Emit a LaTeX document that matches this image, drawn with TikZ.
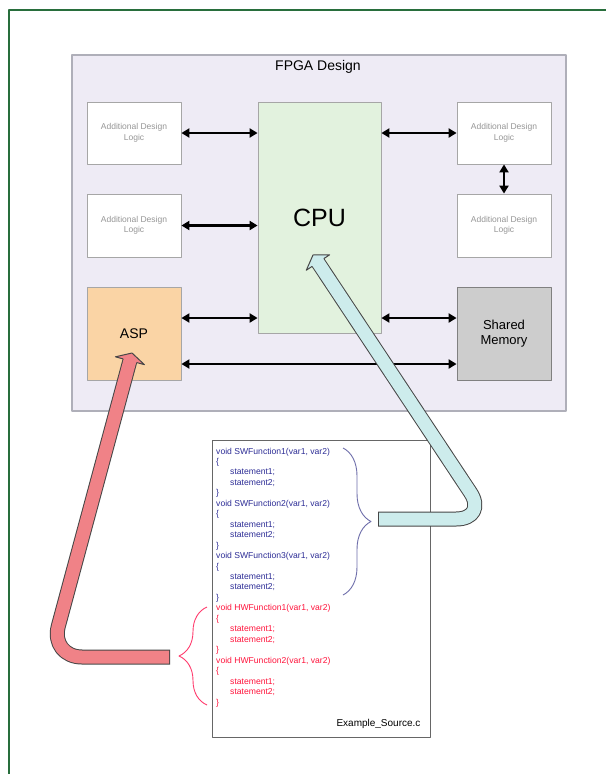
\documentclass[tikz,border=0pt]{standalone}
\usepackage{fontspec}
\setmainfont{Liberation Sans}
\usetikzlibrary{arrows.meta,calc,decorations.pathreplacing}
\definecolor{frameGreen}{RGB}{40,110,60}
\definecolor{fpgaFill}{RGB}{238,235,245}
\definecolor{fpgaLine}{RGB}{175,175,185}
\definecolor{cpuFill}{RGB}{226,242,222}
\definecolor{aspFill}{RGB}{250,212,165}
\definecolor{memFill}{RGB}{205,205,205}
\definecolor{swBlue}{RGB}{45,45,150}
\definecolor{hwRed}{RGB}{255,20,60}
\definecolor{swBrace}{RGB}{110,110,170}
\definecolor{hwBrace}{RGB}{255,60,110}
\definecolor{cyanBand}{RGB}{205,236,236}
\definecolor{pinkBand}{RGB}{240,130,135}
\definecolor{bandLine}{RGB}{70,70,70}
\definecolor{logicText}{RGB}{150,150,150}
\begin{document}
\begin{tikzpicture}[x=1pt,y=-1pt,line join=round,
  block/.style={draw=gray!70,line width=0.8pt,inner sep=0pt,align=center},
  logic/.style={block,fill=white,minimum width=94pt,minimum height=62pt,text=logicText,font=\fontsize{8.5}{10.5}\selectfont},
  biarrow/.style={line width=2.6pt,{Triangle[length=8pt,width=9pt]}-{Triangle[length=8pt,width=9pt]}},
  codeline/.style={anchor=base west,inner sep=0pt,font=\fontsize{8.6}{10}\selectfont},
  curly/.style={line width=0.9pt,decorate,decoration={brace,amplitude=28pt}},
  bandout/.style={line width=15pt,draw=bandLine,rounded corners=32pt},
  bandin/.style={line width=13pt,rounded corners=32pt},
  ]
\useasboundingbox (0,0) rectangle (606,774);
\fill[white] (0,0) rectangle (606,774);
\draw[frameGreen,line width=1.5pt] (9,774) -- (9,10) -- (606,10);

% FPGA design
\node[draw=fpgaLine,fill=fpgaFill,line width=1.2pt,minimum width=494pt,minimum height=356pt] (fpga) at (319,233) {};
\node[font=\fontsize{14}{16}\selectfont] (fpgaTitle) at (318,67) {FPGA Design};

\node[logic] (logicA) at (134,133) {Additional Design\\Logic};
\node[logic,minimum height=63pt] (logicB) at (134,225.5) {Additional Design\\Logic};
\node[block,fill=aspFill,minimum width=94pt,minimum height=93pt,font=\fontsize{14}{16}\selectfont] (asp) at (134,333.5) {ASP};
\node[block,fill=cpuFill,minimum width=123pt,minimum height=231pt,font=\fontsize{25}{28}\selectfont] (cpu) at (319.5,217.5) {CPU};
\node[logic] (logicC) at (504,133) {Additional Design\\Logic};
\node[logic,minimum height=63pt] (logicD) at (504,225.5) {Additional Design\\Logic};
\node[block,draw=gray,fill=memFill,minimum width=94pt,minimum height=93pt,font=\fontsize{13}{15.5}\selectfont] (mem) at (504,333.5) {Shared\\Memory};

\draw[biarrow] (logicA.east) -- (logicA.east -| cpu.west);
\draw[biarrow] (logicB.east) -- (logicB.east -| cpu.west);
\draw[biarrow] ([yshift=15.5pt]asp.east) -- ([yshift=15.5pt]asp.east -| cpu.west);
\draw[biarrow] (logicC.west -| cpu.east) -- (logicC.west);
\draw[biarrow] (logicC.south) -- (logicD.north);
\draw[biarrow] ([yshift=15.5pt]mem.west -| cpu.east) -- ([yshift=15.5pt]mem.west);
\draw[biarrow] ([yshift=-30.5pt]asp.east) -- ([yshift=-30.5pt]asp.east -| mem.west);

% source file
\node[draw=gray!80!black,line width=0.8pt,minimum width=218pt,minimum height=297pt] (src) at (321,588.5) {};
\node[anchor=base east,font=\fontsize{10}{12}\selectfont] (srcName) at (424,726) {Example\_Source.c};
\foreach \fn/\k/\col in {SWFunction1/0/swBlue,SWFunction2/1/swBlue,SWFunction3/2/swBlue,HWFunction1/3/hwRed,HWFunction2/4/hwRed}{
  \node[codeline,text=\col] (head\k) at (216,{454+52.3*\k}) {void \fn(var1, var2)};
  \node[codeline,text=\col] (open\k) at (216,{464.46+52.3*\k}) {\{};
  \node[codeline,text=\col] (stA\k) at (230,{474.92+52.3*\k}) {statement1;};
  \node[codeline,text=\col] (stB\k) at (230,{485.38+52.3*\k}) {statement2;};
  \node[codeline,text=\col] (close\k) at (216,{495.84+52.3*\k}) {\}};
}

% braces
\coordinate (swTop) at (343,448);
\coordinate (swBot) at (343,595);
\draw[curly,swBrace] (swTop) -- (swBot);
\coordinate (hwTop) at (207,607);
\coordinate (hwBot) at (207,705);
\draw[curly,hwBrace] (hwBot) -- (hwTop);

% software goes to the CPU
\coordinate (swTip) at (378,519);
\coordinate (cpuBend) at (488,519);
\coordinate (cpuHead) at (313,255);
\coordinate (cpuBase) at ($(cpuHead)!9pt!(cpuBend)$);
\coordinate (cpuNeck) at ($(cpuHead)!7pt!(cpuBend)$);
\draw[bandout] (swTip) -- (cpuBend) -- (cpuNeck);
\draw[bandin,draw=cyanBand] ([xshift=1pt]swTip) -- (cpuBend) -- (cpuNeck);
\filldraw[fill=cyanBand,draw=bandLine,line width=1pt] ($(cpuBase)!7pt!90:(cpuHead)$) -- ($(cpuBase)!14pt!90:(cpuHead)$) -- (cpuHead) -- ($(cpuBase)!14pt!-90:(cpuHead)$) -- ($(cpuBase)!7pt!-90:(cpuHead)$);

% hardware goes to the ASP
\coordinate (hwTip) at (170,657);
\coordinate (aspBend) at (50,657);
\coordinate (aspHead) at (132,353);
\coordinate (aspBase) at ($(aspHead)!8pt!(aspBend)$);
\coordinate (aspNeck) at ($(aspHead)!6pt!(aspBend)$);
\draw[bandout] (hwTip) -- (aspBend) -- (aspNeck);
\draw[bandin,draw=pinkBand] ([xshift=-1pt]hwTip) -- (aspBend) -- (aspNeck);
\filldraw[fill=pinkBand,draw=bandLine,line width=1pt] ($(aspBase)!7pt!90:(aspHead)$) -- ($(aspBase)!15pt!90:(aspHead)$) -- (aspHead) -- ($(aspBase)!15pt!-90:(aspHead)$) -- ($(aspBase)!7pt!-90:(aspHead)$);
\end{tikzpicture}
\end{document}
